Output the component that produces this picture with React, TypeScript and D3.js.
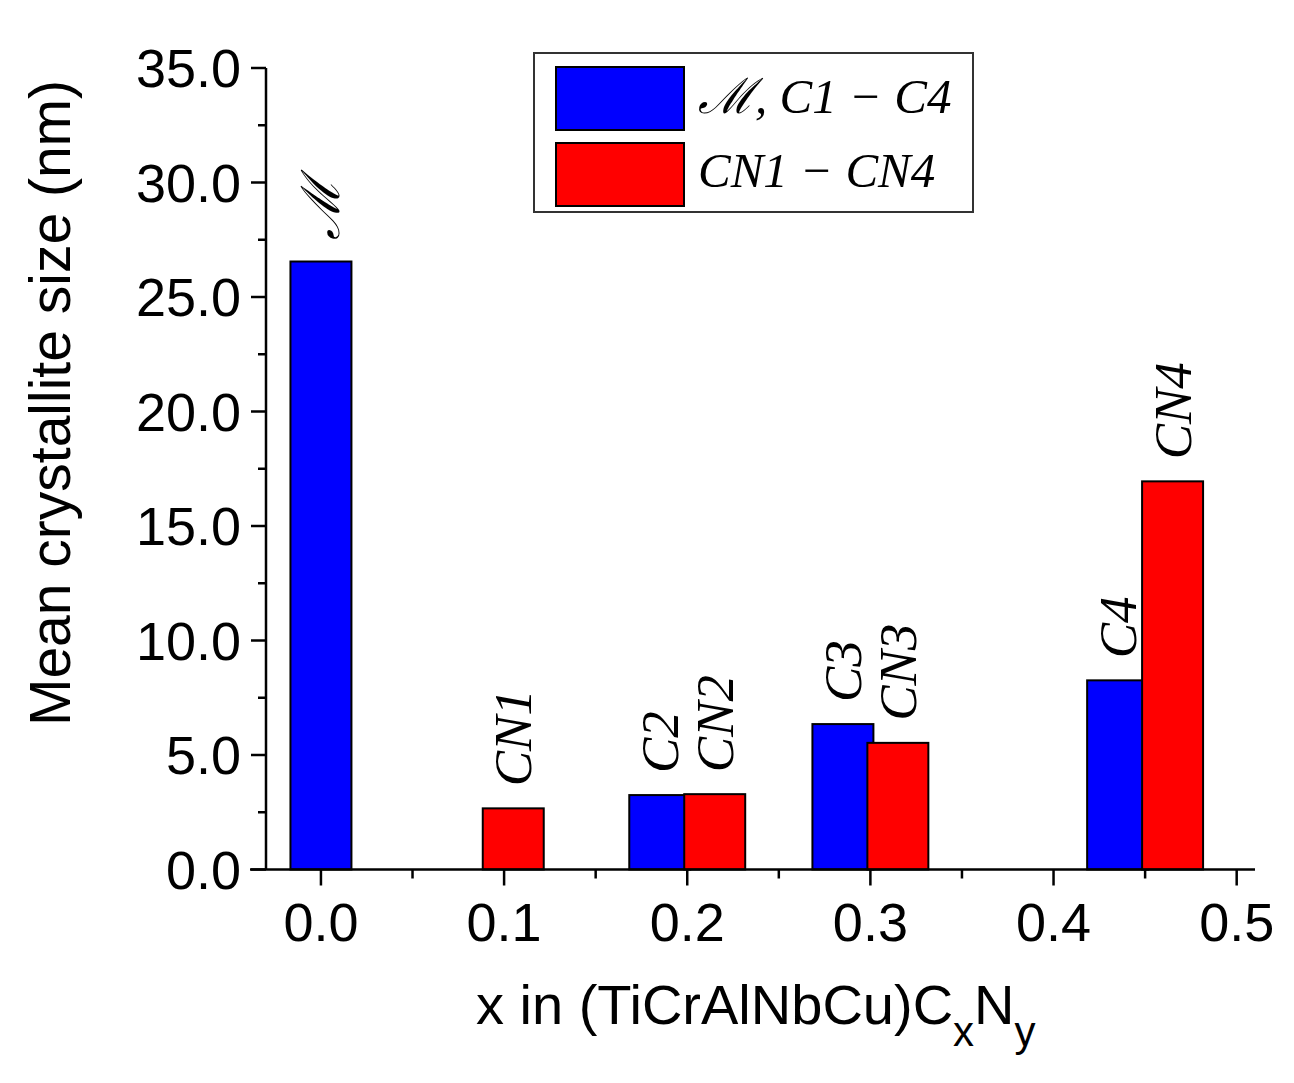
import React from "react";
import * as d3 from "d3";

// ---- data ----
const blueLabels = ["\u2133", "C2", "C3", "C4"];
const blueX = [0, 0.185, 0.285, 0.435];
const blueValues = [26.55, 3.25, 6.35, 8.26];

const redLabels = ["CN1", "CN2", "CN3", "CN4"];
const redX = [0.105, 0.215, 0.315, 0.465];
const redValues = [2.67, 3.29, 5.53, 16.95];

const xTicks = [0, 0.1, 0.2, 0.3, 0.4, 0.5];
const xMinorTicks = [0.05, 0.15, 0.25, 0.35, 0.45];
const yTicks = [0, 5, 10, 15, 20, 25, 30, 35];
const yMinorTicks = [2.5, 7.5, 12.5, 17.5, 22.5, 27.5, 32.5];

const legendItems = [
  { label: "\u2133, C1 \u2212 C4", color: "#0000ff" },
  { label: "CN1 \u2212 CN4", color: "#ff0000" },
];

const W = 1294;
const H = 1083;
const SANS = "'Liberation Sans', Arial, Helvetica, sans-serif";
const SERIF = "'Liberation Serif', 'DejaVu Serif', serif";

export default function App() {
  const x = d3.scaleLinear().domain([-0.03, 0.51]).range([266, 1255]);
  const y = d3.scaleLinear().domain([0, 35]).range([869.5, 68]);
  const barW = 0.0333;
  const bw = x(barW) - x(0);
  const fmt = d3.format(".1f");

  const bars = (xs: number[], vs: number[], color: string) =>
    xs.map((xv, i) => (
      <rect
        key={color + i}
        x={x(xv) - bw / 2}
        y={y(vs[i])}
        width={bw}
        height={y(0) - y(vs[i])}
        fill={color}
        stroke="#000"
        strokeWidth={2}
      />
    ));

  const labels = (xs: number[], vs: number[], ls: string[]) =>
    xs.map((xv, i) => (
      <text
        key={ls[i]}
        transform={`translate(${x(xv)},${y(vs[i]) - 22}) rotate(-90)`}
        textAnchor="start"
        dominantBaseline="central"
        fontFamily={SERIF}
        fontStyle="italic"
        fontSize={53}
        fill="#000"
      >
        {ls[i]}
      </text>
    ));

  return (
    <svg
      width={W}
      height={H}
      style={{ position: "absolute", left: 0, top: 0, background: "#fff" }}
    >
      <rect x={0} y={0} width={W} height={H} fill="#fff" />
      {/* bars */}
      {bars(blueX, blueValues, "#0000ff")}
      {bars(redX, redValues, "#ff0000")}
      {labels(blueX, blueValues, blueLabels)}
      {labels(redX, redValues, redLabels)}

      {/* axes */}
      <line x1={250} x2={1255} y1={y(0)} y2={y(0)} stroke="#000" strokeWidth={2.5} />
      <line x1={x(-0.03)} x2={x(-0.03)} y1={y(0)} y2={y(35)} stroke="#000" strokeWidth={2.5} />
      {xTicks.map((t) => (
        <g key={"xt" + t}>
          <line x1={x(t)} x2={x(t)} y1={y(0)} y2={y(0) + 16} stroke="#000" strokeWidth={2.5} />
          <text
            x={x(t)}
            y={941}
            textAnchor="middle"
            fontFamily={SANS}
            fontSize={54}
            fill="#000"
          >
            {fmt(t)}
          </text>
        </g>
      ))}
      {xMinorTicks.map((t) => (
        <line key={"xm" + t} x1={x(t)} x2={x(t)} y1={y(0)} y2={y(0) + 9} stroke="#000" strokeWidth={2.5} />
      ))}
      {yTicks.map((t) => (
        <g key={"yt" + t}>
          <line x1={x(-0.03) - 15} x2={x(-0.03)} y1={y(t)} y2={y(t)} stroke="#000" strokeWidth={2.5} />
          <text
            x={241}
            y={y(t)}
            dy="0.36em"
            textAnchor="end"
            fontFamily={SANS}
            fontSize={54}
            fill="#000"
          >
            {fmt(t)}
          </text>
        </g>
      ))}
      {yMinorTicks.map((t) => (
        <line key={"ym" + t} x1={x(-0.03) - 8} x2={x(-0.03)} y1={y(t)} y2={y(t)} stroke="#000" strokeWidth={2.5} />
      ))}

      {/* axis titles */}
      <text
        transform={`translate(70,403) rotate(-90)`}
        textAnchor="middle"
        fontFamily={SANS}
        fontSize={57}
        fill="#000"
      >
        Mean crystallite size (nm)
      </text>
      <text x={476} y={1024} fontFamily={SANS} fontSize={56} fill="#000">
        x in (TiCrAlNbCu)C
        <tspan fontSize={42} dy={22}>x</tspan>
        <tspan fontSize={56} dy={-22}>N</tspan>
        <tspan fontSize={42} dy={22}>y</tspan>
      </text>

      {/* legend */}
      <rect x={534} y={53} width={439} height={159} fill="#fff" stroke="#333" strokeWidth={2} />
      {legendItems.map((it, i) => (
        <g key={it.label}>
          <rect
            x={556}
            y={67 + i * 76}
            width={128}
            height={63}
            fill={it.color}
            stroke="#000"
            strokeWidth={2}
          />
          <text
            x={698}
            y={113 + i * 74}
            fontFamily={SERIF}
            fontStyle="italic"
            fontSize={49}
            fill="#000"
            style={{ whiteSpace: "pre" }}
          >
            {it.label}
          </text>
        </g>
      ))}
    </svg>
  );
}
